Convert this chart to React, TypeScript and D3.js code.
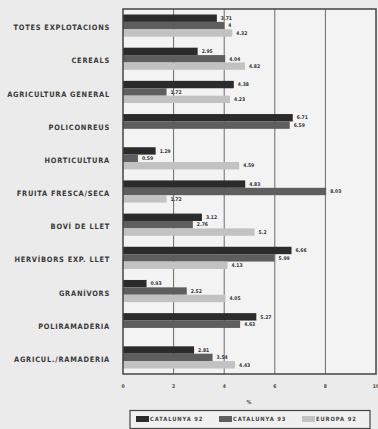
import React from "react";
import * as d3 from "d3";

const categories = [
  "TOTES EXPLOTACIONS",
  "CEREALS",
  "AGRICULTURA GENERAL",
  "POLICONREUS",
  "HORTICULTURA",
  "FRUITA FRESCA/SECA",
  "BOVÍ DE LLET",
  "HERVÍBORS EXP. LLET",
  "GRANÍVORS",
  "POLIRAMADERIA",
  "AGRICUL./RAMADERIA",
];

const seriesNames = ["CATALUNYA 92", "CATALUNYA 93", "EUROPA 92"];

const catalunya92 = [3.71, 2.95, 4.38, 6.71, 1.29, 4.83, 3.12, 6.66, 0.93, 5.27, 2.81];
const catalunya93 = [4, 4.04, 1.72, 6.59, 0.59, 8.03, 2.76, 5.99, 2.52, 4.63, 3.54];
const europa92: (number | null)[] = [4.32, 4.82, 4.23, null, 4.59, 1.72, 5.2, 4.13, 4.05, null, 4.43];

const xTicks = [0, 2, 4, 6, 8, 10];

const seriesColors = ["#2b2b2b", "#5e5e5e", "#c2c2c2"];

const W = 378;
const H = 429;
const plot = { left: 123, right: 376, top: 9, bottom: 374 };
const font = "'DejaVu Sans Condensed', 'DejaVu Sans', sans-serif";

export default function App() {
  const x = d3.scaleLinear().domain([0, 10]).range([plot.left, plot.right]);
  const y = d3.scaleBand<string>().domain(categories).range([plot.top, plot.bottom]).padding(0);
  const inner = d3
    .scaleBand<string>()
    .domain(seriesNames)
    .range([5.5, y.bandwidth() - 5.5])
    .padding(0);

  const series = [catalunya92, catalunya93, europa92];

  const fmt = (v: number) => String(v);

  return (
    <svg
      width={W}
      height={H}
      style={{ position: "absolute", left: 0, top: 0, background: "#ebebeb" }}
    >
      <rect x={0} y={0} width={W} height={H} fill="#ebebeb" />
      <rect
        x={plot.left}
        y={plot.top}
        width={plot.right - plot.left}
        height={plot.bottom - plot.top}
        fill="#f3f3f3"
      />
      {xTicks
        .filter((t) => t > 0 && t < 10)
        .map((t) => (
          <line
            key={"g" + t}
            x1={x(t)}
            x2={x(t)}
            y1={plot.top}
            y2={plot.bottom}
            stroke="#6a6a6a"
            strokeWidth={1}
          />
        ))}
      {categories.map((c, i) => (
        <g key={c} transform={`translate(0,${y(c)})`}>
          {series.map((s, j) => {
            const v = s[i];
            if (v == null) return null;
            const by = inner(seriesNames[j])!;
            const bh = inner.bandwidth();
            return (
              <g key={j}>
                <rect
                  x={x(0)}
                  y={by}
                  width={x(v) - x(0)}
                  height={bh}
                  fill={seriesColors[j]}
                />
                <text
                  x={x(v) + 4}
                  y={by + bh / 2}
                  dy="0.35em"
                  fontSize={5}
                  fontWeight="bold"
                  fontFamily={font}
                  fill="#333"
                >
                  {fmt(v)}
                </text>
              </g>
            );
          })}
          <text
            x={110}
            y={y.bandwidth() / 2 + 2}
            dy="0.35em"
            textAnchor="end"
            fontSize={7.4}
            fontWeight="bold"
            fontFamily={font}
            letterSpacing={0.75}
            fill="#3a3a3a"
          >
            {c}
          </text>
        </g>
      ))}
      <rect
        x={plot.left}
        y={plot.top}
        width={plot.right - plot.left}
        height={plot.bottom - plot.top}
        fill="none"
        stroke="#444"
        strokeWidth={1.5}
      />
      {xTicks.map((t) => (
        <text
          key={"t" + t}
          x={x(t)}
          y={386}
          textAnchor="middle"
          dy="0.35em"
          fontSize={5}
          fontWeight="bold"
          fontFamily={font}
          fill="#444"
        >
          {t}
        </text>
      ))}
      <text
        x={249}
        y={402}
        textAnchor="middle"
        dy="0.35em"
        fontSize={5.5}
        fontWeight="bold"
        fontFamily={font}
        fill="#444"
      >
        %
      </text>
      <rect x={130} y={410.5} width={240} height={18} fill="#f0f0f0" stroke="#444" strokeWidth={1.2} />
      {seriesNames.map((n, j) => {
        const sx = [136, 219, 302][j];
        return (
          <g key={n}>
            <rect x={sx} y={416} width={13} height={6} fill={seriesColors[j]} />
            <text
              x={sx + 14}
              y={419}
              dy="0.35em"
              fontSize={5.8}
              fontWeight="bold"
              fontFamily={font}
              letterSpacing={0.9}
              fill="#444"
            >
              {n}
            </text>
          </g>
        );
      })}
    </svg>
  );
}
